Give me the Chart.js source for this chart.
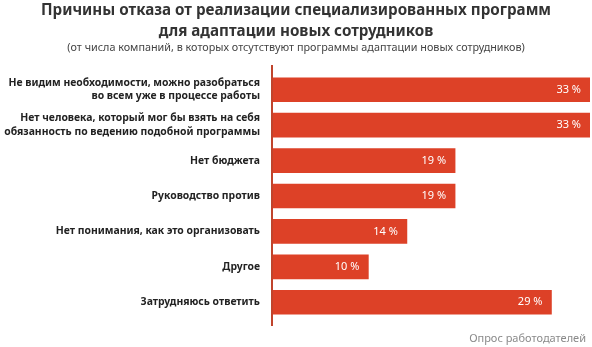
<!DOCTYPE html>
<html>
<head>
<meta charset="utf-8">
<script src="https://cdn.jsdelivr.net/npm/chart.js@4"></script>
<style>
  html, body { margin: 0; padding: 0; background: #fff; }
  #wrap { width: 592px; height: 347px; position: relative; }
</style>
</head>
<body>
<div id="wrap"><canvas id="reasonsChart"></canvas></div>
<script>
const categories = [
    ['Не видим необходимости, можно разобраться', 'во всем уже в процессе работы'],
    ['Нет человека, который мог бы взять на себя', 'обязанность по ведению подобной программы'],
    'Нет бюджета',
    'Руководство против',
    'Нет понимания, как это организовать',
    'Другое',
    'Затрудняюсь ответить'
];
const shares = [33, 33, 19, 19, 14, 10, 29];
const titleLines = ['Причины отказа от реализации специализированных программ', 'для адаптации новых сотрудников'];
const subtitleText = '(от числа компаний, в которых отсутствуют программы адаптации новых сотрудников)';
const sourceText = 'Опрос работодателей';

const FONT = "'Noto Sans', sans-serif";
const RED = '#dd4127';

// titles, axis line, value labels and source note
const decor = {
    id: 'decor',
    afterDatasetsDraw(chart) {
        const c = chart.ctx;
        const area = chart.chartArea;
        c.save();

        c.textAlign = 'center';
        c.textBaseline = 'middle';
        c.fillStyle = '#333';
        c.font = 'bold 15.2px ' + FONT;
        c.fillText(titleLines[0], 296, 11);
        c.fillText(titleLines[1], 296, 32);
        c.font = '10.8px ' + FONT;
        c.fillStyle = '#444';
        c.fillText(subtitleText, 296, 48);

        // axis line
        c.strokeStyle = '#c0442c';
        c.lineWidth = 2;
        c.beginPath();
        c.moveTo(area.left, 65);
        c.lineTo(area.left, 326);
        c.stroke();

        // value labels
        const meta = chart.getDatasetMeta(0);
        c.font = '11px ' + FONT;
        c.fillStyle = '#fff';
        c.textAlign = 'right';
        meta.data.forEach((bar, i) => {
            c.fillText(shares[i] + ' %', bar.x - 9, bar.y);
        });

        c.fillStyle = '#8a8a8a';
        c.font = '11px ' + FONT;
        c.fillText(sourceText, 586, 339);
        c.restore();
    }
};

new Chart(document.getElementById('reasonsChart'), {
    type: 'bar',
    data: {
        labels: categories,
        datasets: [{
            data: shares,
            backgroundColor: RED,
            borderWidth: 0,
            barThickness: 24
        }]
    },
    options: {
        indexAxis: 'y',
        responsive: true,
        maintainAspectRatio: false,
        animation: false,
        layout: { padding: { top: 72, bottom: 27, right: 2, left: 0 } },
        scales: {
            x: { display: false, min: 0, max: 33 },
            y: {
                grid: { display: false, drawTicks: false },
                border: { display: false },
                afterFit(scale) { scale.width = 272; },
                ticks: {
                    color: '#222',
                    padding: 12,
                    font: { family: FONT, size: 10.4, weight: 'bold', lineHeight: 1.3 }
                }
            }
        },
        plugins: {
            legend: { display: false },
            tooltip: { enabled: false }
        }
    },
    plugins: [decor]
});
</script>
</body>
</html>
